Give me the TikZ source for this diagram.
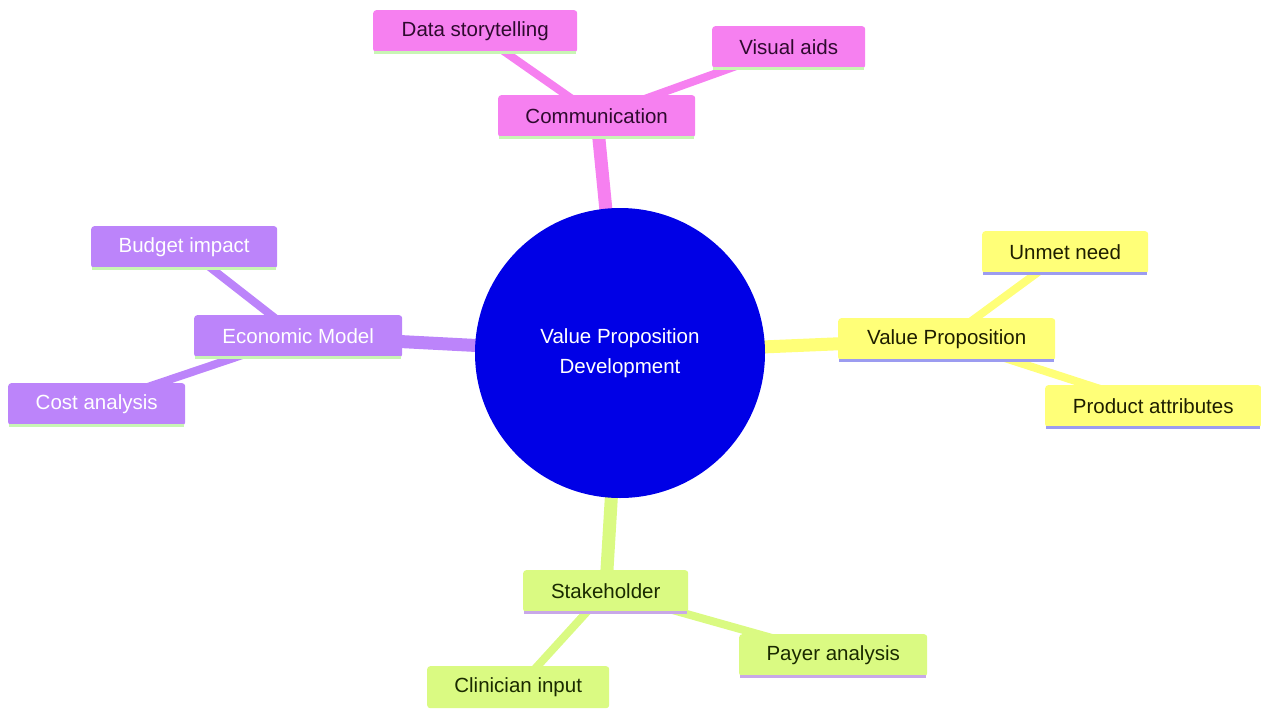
\documentclass[tikz,border=0pt]{standalone}
\usepackage{fontspec}
\setmainfont{Liberation Sans}
\pgfdeclarelayer{bg}
\pgfsetlayers{bg,main}
\definecolor{cpink}{HTML}{F680F0}
\definecolor{cpurple}{HTML}{BC84FA}
\definecolor{cyellow}{HTML}{FFFF78}
\definecolor{cgreen}{HTML}{DAFA82}
\definecolor{cblue}{HTML}{0000E6}
\definecolor{lgreen}{HTML}{C8F5B4}
\definecolor{lblue}{HTML}{9C9CF0}
\definecolor{lpurple}{HTML}{C8A8E8}
\definecolor{tpink}{HTML}{2E0A2E}
\definecolor{tyellow}{HTML}{1E1E00}
\definecolor{tgreen}{HTML}{1A2A00}
\tikzset{
  x=1pt,y=-1pt,
  leaf/.style={rectangle, rounded corners=3pt, minimum height=42pt, inner xsep=0pt, font=\fontsize{20.5}{24}\selectfont, anchor=north west},
  pinkbox/.style={leaf, fill=cpink, text=tpink},
  purplebox/.style={leaf, fill=cpurple, text=white},
  yellowbox/.style={leaf, fill=cyellow, text=tyellow},
  greenbox/.style={leaf, fill=cgreen, text=tgreen},
  mainedge/.style={line width=13pt},
  subedge/.style={line width=8pt},
}
\newcommand{\uline}[2]{\draw[line width=3pt,#2] ([xshift=1pt]#1.south west) -- ([xshift=-1pt]#1.south east);}
\begin{document}
\begin{tikzpicture}
\useasboundingbox (0,0) rectangle (1261,709);
% center
\node[circle, fill=cblue, minimum size=290pt, inner sep=0pt, text=white, align=center, font=\fontsize{20.5}{30}\selectfont] (c) at (620,353) {Value Proposition\\Development};
% Communication
\node[pinkbox, minimum width=197pt] (com) at (498,95) {Communication};
\node[pinkbox, minimum width=204pt] (ds) at (373,10) {Data storytelling};
\node[pinkbox, minimum width=153pt] (va) at (712,26) {Visual aids};
% Economic
\node[purplebox, minimum width=208pt] (eco) at (194,315) {Economic Model};
\node[purplebox, minimum width=186pt] (bi) at (91,226) {Budget impact};
\node[purplebox, minimum width=177pt] (ca) at (8,383) {Cost analysis};
% Value proposition
\node[yellowbox, minimum width=217pt] (vp) at (838,318) {Value Proposition};
\node[yellowbox, minimum width=166pt] (un) at (982,231) {Unmet need};
\node[yellowbox, minimum width=216pt] (pa) at (1045,385) {Product attributes};
% Stakeholder
\node[greenbox, minimum width=165pt] (st) at (523,570) {Stakeholder};
\node[greenbox, minimum width=188pt] (py) at (739,634) {Payer analysis};
\node[greenbox, minimum width=182pt] (cl) at (427,666) {Clinician input};
% underlines
\uline{com}{lgreen}\uline{ds}{lgreen}\uline{va}{lgreen}
\uline{eco}{lgreen}\uline{bi}{lgreen}\uline{ca}{lgreen}
\uline{vp}{lblue}\uline{un}{lblue}\uline{pa}{lblue}
\uline{st}{lpurple}\uline{py}{lpurple}
\begin{pgfonlayer}{bg}
\draw[mainedge, cpink] (c.center) -- (com.center);
\draw[subedge, cpink] (com.center) -- (ds.center);
\draw[subedge, cpink] (com.center) -- (va.center);
\draw[mainedge, cpurple] (c.center) -- (eco.center);
\draw[subedge, cpurple] (eco.center) -- (bi.center);
\draw[subedge, cpurple] (eco.center) -- (ca.center);
\draw[mainedge, cyellow] (c.center) -- (vp.center);
\draw[subedge, cyellow] (vp.center) -- (un.center);
\draw[subedge, cyellow] (vp.center) -- (pa.center);
\draw[mainedge, cgreen] (c.center) -- (st.center);
\draw[subedge, cgreen] (st.center) -- (py.center);
\draw[subedge, cgreen] (st.center) -- (cl.center);
\end{pgfonlayer}
\end{tikzpicture}
\end{document}
